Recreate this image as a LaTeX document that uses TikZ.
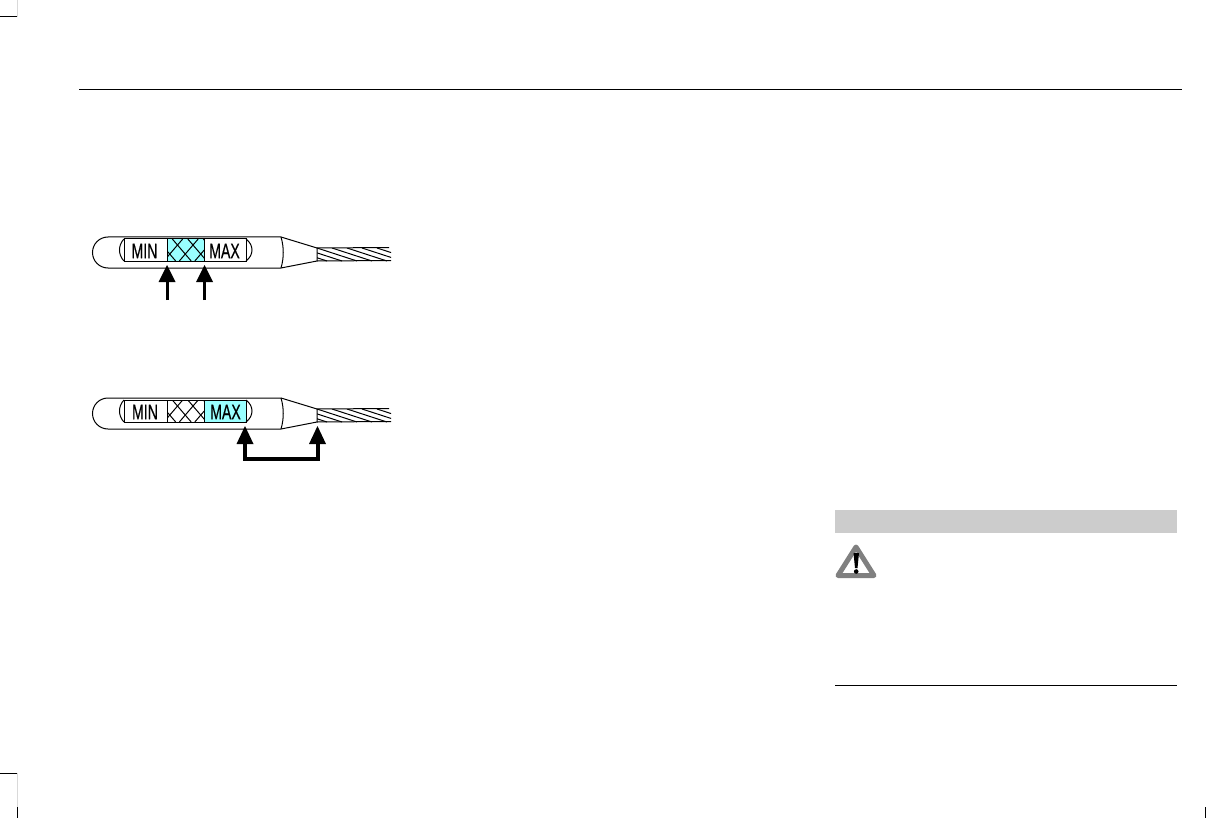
\documentclass[tikz,border=0pt]{standalone}
\usepackage{fontspec}
\setmainfont{Liberation Sans}
\newfontfamily\stickfont[FakeBold=0.5]{Liberation Sans}
\definecolor{stickcyan}{RGB}{153,255,255}
\definecolor{bannergray}{RGB}{204,204,204}
\tikzset{
  sticktext/.style={inner sep=0pt,xscale=.67,transform shape,font=\fontsize{21}{22}\stickfont},
  stickline/.style={black,line width=1pt},
  hatchline/.style={black,line width=1pt},
  fatarrow/.style={black,line width=3pt},
  arrowhead/.style={fill=black}
}
\begin{document}
\begin{tikzpicture}[x=1pt,y=-1pt]
\useasboundingbox (0,0) rectangle (1206,818);
% crop marks:
\path[draw=black!15,line width=1pt] (17,0) -- (17,17);
\path[draw=black,line width=1pt] (0,17) -- (17,17);
\path[draw=black!15,line width=1pt] (17,773) -- (17,807);
\path[draw=black,line width=1pt] (0,773) -- (17,773);
\path[draw=black,line width=1pt] (17,807) -- (17,818);
\path[draw=black,line width=1pt] (1205,807) -- (1205,818);
% page rules:
\draw[black,line width=1pt] (79,89.5) -- (1182,89.5);
\draw[black,line width=1pt] (835,685.5) -- (1177,685.5);
\path[fill=bannergray] (835,510) rectangle (1177,533);
% cyan parts:
\path[fill=stickcyan] (167,239) rectangle (204,261);
\path[fill=stickcyan] (205,400) rectangle (246,422);
% both sticks:
\foreach \sy in {0,161}{
  \begin{scope}[yshift=-\sy pt]
  \draw[stickline] (281,237) -- (108,237) arc (-90:-270:15.5) -- (281,268);
  \draw[stickline] (281,237) .. controls (284,247) and (284,258) .. (281,268);
  \draw[stickline] (281,237) -- (317,248) -- (317,261) -- (281,268);
  \draw[stickline] (124,239) rectangle (246,261);
  \draw[stickline] (167,239) -- (167,261);
  \draw[stickline] (204.5,239) -- (204.5,261);
  \draw[stickline] (124,239) .. controls (118,245) and (118,255) .. (124,261);
  \draw[stickline] (246,239) .. controls (254,245) and (254,255) .. (246,261);
  % hatch:
  \begin{scope}
  \clip (167,239) rectangle (204.5,261);
  \foreach \hx in {156.8,172.3,187.8,203.3}{
    \draw[hatchline] (\hx,239) -- (\hx+18.9,261);
  }
  \foreach \hx in {148.3,163.8,179.3,194.8}{
    \draw[hatchline] (\hx+18.9,239) -- (\hx,261);
  }
  \end{scope}
  % cable:
  \draw[hatchline] (317,248) -- (389,247.5);
  \draw[hatchline] (317,261) -- (391,260.5);
  \begin{scope}
  \clip (317,248) rectangle (391,261);
  \foreach \hx in {287,302,...,377}{
    \draw[hatchline] (\hx,248) -- (\hx+40,261);
  }
  \end{scope}
  \end{scope}
}
\node[sticktext] (mintop) at (144.5,251) {MIN};
\node[sticktext] (maxtop) at (224.5,251) {MAX};
\node[sticktext] (minbottom) at (145,412) {MIN};
\node[sticktext] (maxbottom) at (225.5,412) {MAX};
% arrows at the top stick:
\coordinate (tipa) at (167,265);
\coordinate (tipb) at (204.5,265);
\coordinate (taila) at (167,300);
\coordinate (tailb) at (204.5,300);
\draw[fatarrow] (taila) -- ++(0,-20);
\draw[fatarrow] (tailb) -- ++(0,-20);
\path[arrowhead] (tipa) -- ++(8.5,17) -- ++(-17,0) -- cycle;
\path[arrowhead] (tipb) -- ++(8.5,17) -- ++(-17,0) -- cycle;
% arrow at the bottom stick:
\coordinate (tipc) at (245,426);
\coordinate (tipd) at (317.5,426);
\coordinate (cornerc) at (245,459);
\coordinate (cornerd) at (317.5,459);
\draw[fatarrow,line width=4pt,line join=miter] (245,442) -- (cornerc) -- (cornerd) -- (317.5,442);
\path[arrowhead] (tipc) -- ++(8.5,18) -- ++(-17,0) -- cycle;
\path[arrowhead] (tipd) -- ++(8.5,18) -- ++(-17,0) -- cycle;
% warning sign:
\draw[black!50,line width=5pt,line join=round] (856,547) -- (874,575.5) -- (838,575.5) -- cycle;
\path[fill=black] (853.5,553) -- (859,553) -- (857.5,568) -- (855,568) -- cycle;
\path[fill=black] (856.2,571.5) circle (2.3);
\end{tikzpicture}
\end{document}
